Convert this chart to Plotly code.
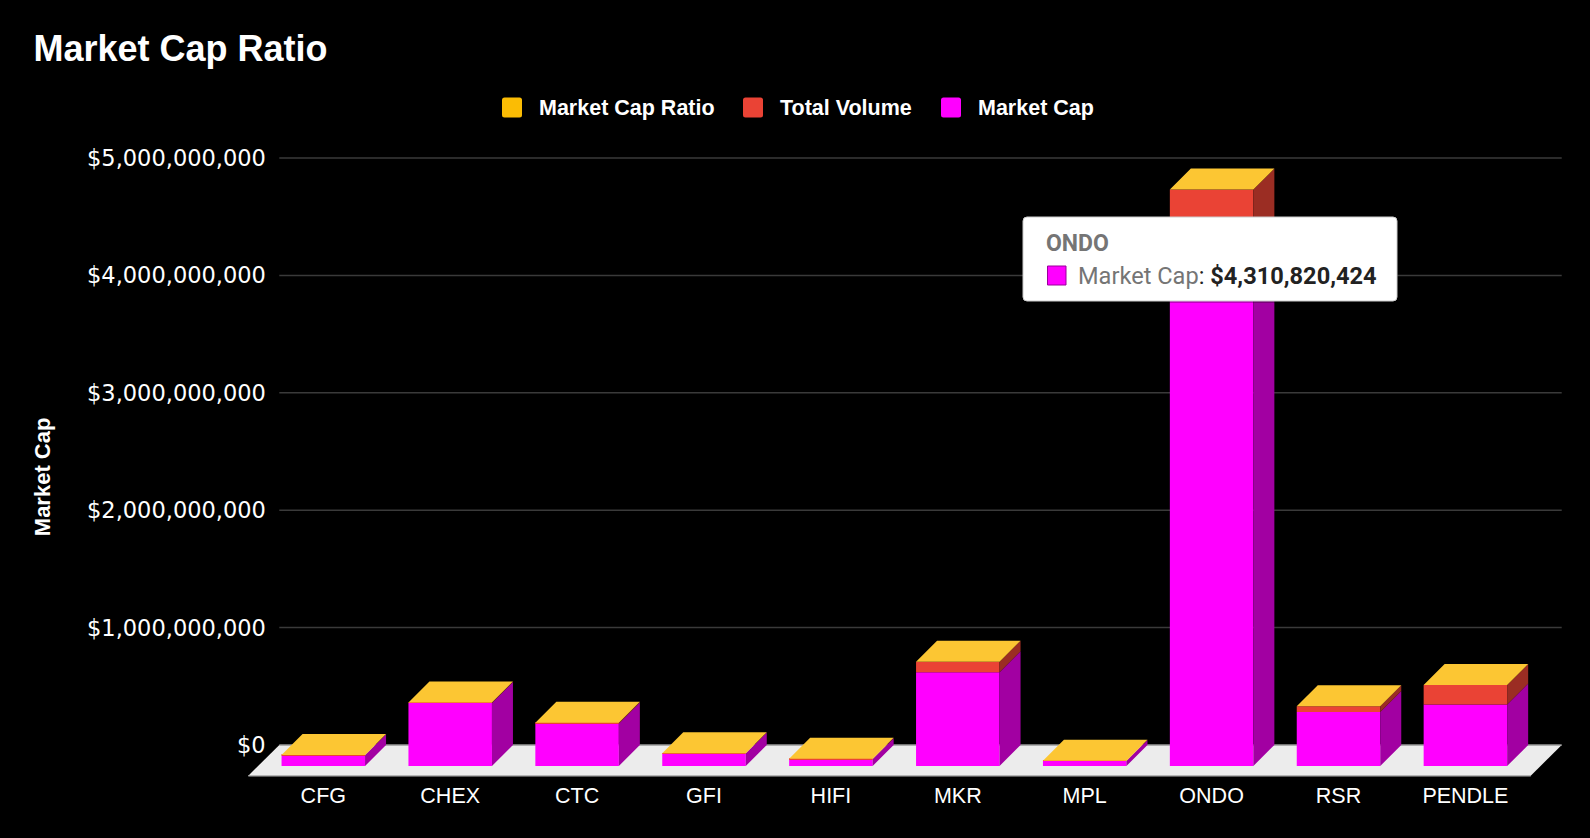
import plotly.graph_objects as go

# ---------------- data ----------------
categories = ["CFG", "CHEX", "CTC", "GFI", "HIFI", "MKR", "MPL", "ONDO", "RSR", "PENDLE"]
market_cap = [91e6, 537e6, 361e6, 106e6, 57e6, 798e6, 43e6, 4310820424, 460e6, 523e6]
total_volume = [3e6, 4e6, 8e6, 3e6, 4e6, 91e6, 2e6, 599e6, 49e6, 167e6]
market_cap_ratio = [0.03, 0.01, 0.02, 0.03, 0.07, 0.11, 0.05, 0.14, 0.11, 0.32]
y_ticks = [0, 1e9, 2e9, 3e9, 4e9, 5e9]
legend_names = ["Market Cap Ratio", "Total Volume", "Market Cap"]
tooltip_category = "ONDO"

# ---------------- styling / geometry ----------------
W, H = 1590, 838
ML, MR, MT, MB = 248, 28, 150, 60
PW, PH = W - ML - MR, H - MT - MB
X_RANGE = [-0.5934, 9.7612]
Y_RANGE = [-0.2811e9, 5.068e9]
BW = 0.658          # front face width (category units)
DX = 0.1655         # depth offset x (category units)
DY = 0.1789e9       # depth offset y (value units)
FLOOR = dict(fl=-0.591, fr=9.515, bl=-0.3467, br=9.759, fy=-0.2615e9)

C_MCAP, C_MCAP_SIDE = "#ff00ff", "#a200a2"
C_VOL, C_VOL_SIDE = "#ea4335", "#9b2d23"
C_RATIO, C_RATIO_TOP = "#fbbc04", "#fcc633"
FONT = "Liberation Sans, Arial, sans-serif"
FONT_TICK = "DejaVu Sans, Verdana, sans-serif"
ROBOTO = "Roboto, Liberation Sans, sans-serif"


def pxx(px):
    return (px - ML) / PW


def pxy(py):
    return (MT + PH - py) / PH


fig = go.Figure()

idx = list(range(len(categories)))
stack = [("Market Cap", market_cap, C_MCAP, C_MCAP_SIDE),
         ("Total Volume", total_volume, C_VOL, C_VOL_SIDE),
         ("Market Cap Ratio", market_cap_ratio, C_RATIO, "#a67c03")]

base = [-DY] * len(categories)
for name, vals, col, side in stack:
    fig.add_trace(go.Bar(x=idx, y=vals, base=list(base), width=BW,
                         marker=dict(color=col, line=dict(width=0)),
                         showlegend=False, hoverinfo="skip", name=name))
    sx, sy = [], []
    for i in idx:
        x1 = i + BW / 2
        lo, hi = base[i], base[i] + vals[i]
        sx += [x1, x1, x1 + DX, x1 + DX, x1, None]
        sy += [lo, hi, hi + DY, lo + DY, lo, None]
    fig.add_trace(go.Scatter(x=sx, y=sy, mode="lines", fill="toself", fillcolor=side,
                             line=dict(width=0, color=side), showlegend=False,
                             hoverinfo="skip"))
    base = [b + v for b, v in zip(base, vals)]

# top faces
tx, ty = [], []
for i in idx:
    x0, x1 = i - BW / 2, i + BW / 2
    t = base[i]
    tx += [x0, x1, x1 + DX, x0 + DX, x0, None]
    ty += [t, t, t + DY, t + DY, t, None]
fig.add_trace(go.Scatter(x=tx, y=ty, mode="lines", fill="toself", fillcolor=C_RATIO_TOP,
                         line=dict(width=0, color=C_RATIO_TOP), showlegend=False,
                         hoverinfo="skip"))

shapes = []
annotations = []


def rounded(x0, y0, x1, y1, r):
    X = lambda p: pxx(p)
    Y = lambda p: pxy(p)
    return (f"M {X(x0+r)},{Y(y0)} L {X(x1-r)},{Y(y0)} Q {X(x1)},{Y(y0)} {X(x1)},{Y(y0+r)} "
            f"L {X(x1)},{Y(y1-r)} Q {X(x1)},{Y(y1)} {X(x1-r)},{Y(y1)} "
            f"L {X(x0+r)},{Y(y1)} Q {X(x0)},{Y(y1)} {X(x0)},{Y(y1-r)} "
            f"L {X(x0)},{Y(y0+r)} Q {X(x0)},{Y(y0)} {X(x0+r)},{Y(y0)} Z")


# legend (swatch + label)
leg_cols = [C_RATIO, C_VOL, C_MCAP]
leg_sw_x = [502, 743, 941]
for name, col, sx0 in zip(legend_names, leg_cols, leg_sw_x):
    shapes.append(dict(type="path", xref="paper", yref="paper", layer="above",
                       path=rounded(sx0, 97.5, sx0 + 20, 117.5, 2.5),
                       fillcolor=col, line=dict(width=0)))
    annotations.append(dict(xref="paper", yref="paper", x=pxx(sx0 + 35), y=pxy(107.5),
                            xanchor="left", yanchor="middle", showarrow=False,
                            text=f"<b>{name}</b>",
                            font=dict(family=FONT, size=21.5, color="#ffffff")))

# floor
f = FLOOR
shapes.append(dict(type="path", xref="x", yref="y", layer="below",
                   path=f"M {f['fl']},{f['fy']} L {f['fr']},{f['fy']} L {f['br']},0 L {f['bl']},0 Z",
                   fillcolor="#ececec", line=dict(width=0)))
shapes.append(dict(type="line", xref="x", yref="y", layer="below",
                   x0=f['fl'], x1=f['fr'], y0=f['fy'], y1=f['fy'],
                   line=dict(color="#b4b4b4", width=1.5)))
# gridlines on back plane
for v in y_ticks:
    shapes.append(dict(type="line", xref="x", yref="y", layer="below",
                       x0=f['bl'], x1=f['br'], y0=v, y1=v,
                       line=dict(color="#9a9a9a" if v == 0 else "#3a3a3a", width=1.5)))

for v in y_ticks:
    annotations.append(dict(xref="paper", yref="y", x=pxx(267.5), y=v, xanchor="right",
                            yanchor="middle", showarrow=False,
                            text=f"${v:,.0f}",
                            font=dict(family=FONT_TICK, size=22.5, color="#ffffff")))
annotations.append(dict(xref="paper", yref="paper", x=pxx(42.6), y=pxy(476.6),
                        textangle=-90, showarrow=False, xanchor="center", yanchor="middle",
                        text="<b>Market Cap</b>",
                        font=dict(family=FONT, size=22, color="#ffffff")))

# tooltip
k = categories.index(tooltip_category)
bx0, bx1, by0, by1 = 1023, 1397, 217, 301
shapes.append(dict(type="path", xref="paper", yref="paper", layer="above",
                   path=rounded(bx0 + 1, by0 + 2, bx1 + 1, by1 + 2, 4),
                   fillcolor="rgba(0,0,0,0.25)", line=dict(width=0)))
shapes.append(dict(type="path", xref="paper", yref="paper", layer="above",
                   path=rounded(bx0, by0, bx1, by1, 4),
                   fillcolor="#ffffff", line=dict(color="#cccccc", width=1)))
shapes.append(dict(type="rect", xref="paper", yref="paper", layer="above",
                   x0=pxx(1047.5), x1=pxx(1066), y0=pxy(285), y1=pxy(266),
                   fillcolor=C_MCAP, line=dict(color="#990099", width=1)))
annotations.append(dict(xref="paper", yref="paper", x=pxx(1044), y=pxy(243.5),
                        xanchor="left", yanchor="middle", showarrow=False,
                        text=f"<b>{tooltip_category}</b>",
                        font=dict(family=ROBOTO, size=23, color="#757575")))
annotations.append(dict(xref="paper", yref="paper", x=pxx(1076), y=pxy(276),
                        xanchor="left", yanchor="middle", showarrow=False,
                        text=f"<span style='color:#757575'>Market Cap</span>: <b>${market_cap[k]:,.0f}</b>",
                        font=dict(family=ROBOTO, size=23.6, color="#222222")))

fig.update_layout(
    width=W, height=H,
    paper_bgcolor="#000000", plot_bgcolor="#000000",
    margin=dict(l=ML, r=MR, t=MT, b=MB),
    barmode="overlay",
    showlegend=False,
    title=dict(text="<b>Market Cap Ratio</b>", x=33.5 / W, xanchor="left", xref="container",
               y=1 - 48.5 / H, yanchor="middle", yref="container",
               font=dict(family=FONT, size=36, color="#ffffff")),
    xaxis=dict(range=X_RANGE, tickmode="array", tickvals=idx, ticktext=categories,
               showgrid=False, zeroline=False, showline=False, ticks="",
               ticklabelstandoff=2,
               tickfont=dict(family=FONT, size=21.5, color="#ffffff"), fixedrange=True),
    yaxis=dict(range=Y_RANGE, showgrid=False, zeroline=False, showline=False,
               showticklabels=False, fixedrange=True),
    shapes=shapes, annotations=annotations,
    hovermode=False,
)

fig.write_html("out.html", config={"displayModeBar": False},
               post_script="document.body.style.margin='0';document.body.style.background='#000';")
